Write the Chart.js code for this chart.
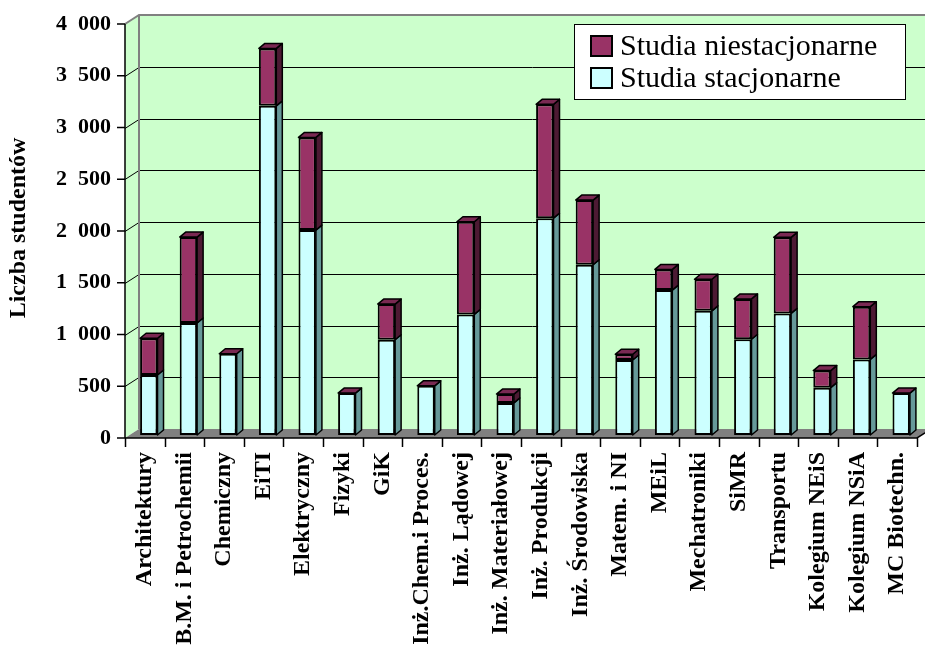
<!DOCTYPE html>
<html><head><meta charset="utf-8">
<script src="https://cdn.jsdelivr.net/npm/chart.js@4/dist/chart.umd.min.js"></script>
<style>html,body{margin:0;padding:0;background:#fff}#wrap{width:925px;height:653px}</style>
</head><body><div id="wrap"><canvas id="c" width="925" height="653"></canvas></div>
<script>
const categories = ['Architektury','B.M. i Petrochemii','Chemiczny','EiTI','Elektryczny','Fizyki','GiK','Inż.Chem.i Proces.','Inż. Lądowej','Inż. Materiałowej','Inż. Produkcji','Inż. Środowiska','Matem. i NI','MEiL','Mechatroniki','SiMR','Transportu','Kolegium NEiS','Kolegium NSiA','MC Biotechn.'];
const stacjonarne =    [580, 1082, 785, 3180, 1980, 405, 920, 475, 1165, 310, 2095, 1645, 725, 1400, 1200, 925, 1175, 457, 730, 405];
const niestacjonarne = [355,  830,   0,  555,  895,   0, 345,   0,  895,  85, 1100,  625,  55,  200,  305, 390,  735, 165, 510,   0];
const yTicks = [0, 500, 1000, 1500, 2000, 2500, 3000, 3500, 4000];
const seriesNames = ['Studia stacjonarne', 'Studia niestacjonarne'];
const yTitle = 'Liczba studentów';

const FAM = "'Liberation Serif', 'Times New Roman', serif";
const COL_STAC = '#CCFFFF', COL_NIEST = '#993366';
const DX = 6, DY = 5;     // bar depth
const BX = 10, BY = 6;    // back wall offset
const FX = -4, FY = 3;    // front plane offset

function fmt(v) {
  v = Number(v);
  if (v < 1000) return String(v);
  const th = Math.floor(v / 1000), r = String(v % 1000).padStart(3, '0');
  return th + '  ' + r;
}

function poly(ctx, pts, fill) {
  ctx.beginPath();
  ctx.moveTo(pts[0][0], pts[0][1]);
  for (let i = 1; i < pts.length; i++) ctx.lineTo(pts[i][0], pts[i][1]);
  ctx.closePath();
  if (fill) { ctx.fillStyle = fill; ctx.fill(); }
  ctx.stroke();
}

const wallPlugin = {
  id: 'walls',
  beforeDatasetsDraw(chart) {
    const ctx = chart.ctx, y = chart.scales.y;
    const L = chart.chartArea.left, R = chart.chartArea.right;
    const yTop = y.getPixelForValue(yTicks[yTicks.length - 1]);
    const y0 = y.getPixelForValue(0);
    ctx.save();
    ctx.fillStyle = '#CCFFCC';
    ctx.fillRect(L + BX, yTop - BY, R - L + 40, y0 - yTop);
    ctx.beginPath();
    ctx.moveTo(L + FX, yTop + FY); ctx.lineTo(L + BX, yTop - BY);
    ctx.lineTo(L + BX, y0 - BY); ctx.lineTo(L + FX, y0 + FY); ctx.closePath();
    ctx.fill();
    ctx.fillStyle = '#808080';
    ctx.beginPath();
    ctx.moveTo(L + FX, y0 + FY); ctx.lineTo(L + BX, y0 - BY);
    ctx.lineTo(R + BX, y0 - BY); ctx.lineTo(R + FX, y0 + FY); ctx.closePath();
    ctx.fill();
    ctx.strokeStyle = '#000'; ctx.lineWidth = 1;
    yTicks.forEach(v => {
      if (v === 0 || v === yTicks[yTicks.length - 1]) return;
      const p = Math.round(y.getPixelForValue(v)) + 0.5;
      ctx.beginPath();
      ctx.moveTo(L + FX, p + FY); ctx.lineTo(L + BX, p - BY); ctx.lineTo(R + BX + 30, p - BY);
      ctx.stroke();
    });
    ctx.strokeStyle = '#808080'; ctx.lineWidth = 2;
    ctx.beginPath();
    ctx.moveTo(L + FX, yTop + FY); ctx.lineTo(L + BX, yTop - BY); ctx.lineTo(R + BX + 30, yTop - BY);
    ctx.moveTo(L + BX, yTop - BY); ctx.lineTo(L + BX, y0 - BY);
    ctx.stroke();
    ctx.strokeStyle = '#000'; ctx.lineWidth = 1.5;
    ctx.beginPath();
    ctx.moveTo(L + FX, yTop + FY); ctx.lineTo(L + FX, y0 + FY);
    ctx.lineTo(R + FX, y0 + FY); ctx.lineTo(R + BX, y0 - BY);
    yTicks.forEach(v => {
      const p = y.getPixelForValue(v) + FY;
      ctx.moveTo(L + FX - 8, p); ctx.lineTo(L + FX, p);
    });
    const cw = (R - L) / categories.length;
    for (let i = 0; i <= categories.length; i++) {
      const xx = Math.round(L + FX + i * cw) + 0.5;
      ctx.moveTo(xx, y0 + FY); ctx.lineTo(xx, y0 + FY + 9);
    }
    ctx.stroke();
    ctx.restore();
  },
  afterDatasetsDraw(chart) {
    const ctx = chart.ctx;
    const m0 = chart.getDatasetMeta(0).data, m1 = chart.getDatasetMeta(1).data;
    ctx.save();
    ctx.strokeStyle = '#000'; ctx.lineWidth = 1.5; ctx.lineJoin = 'round';
    for (let i = 0; i < m0.length; i++) {
      const a = m0[i], b = m1[i];
      const hw = a.width / 2, xl = a.x - hw, xr = a.x + hw;
      poly(ctx, [[xr, a.base], [xr + DX, a.base - DY], [xr + DX, a.y - DY], [xr, a.y]], '#669999');
      if (Math.abs(b.base - b.y) > 0.5)
        poly(ctx, [[xr, b.base], [xr + DX, b.base - DY], [xr + DX, b.y - DY], [xr, b.y]], '#4D1A33');
      poly(ctx, [[xl, b.y], [xl + DX, b.y - DY], [xr + DX, b.y - DY], [xr, b.y]], '#7A2952');
    }
    ctx.restore();
  },
  afterDraw(chart) {
    const ctx = chart.ctx;
    ctx.save();
    ctx.fillStyle = '#fff'; ctx.fillRect(574, 24, 331, 75);
    ctx.strokeStyle = '#000'; ctx.lineWidth = 1; ctx.strokeRect(574.5, 24.5, 331, 75);
    const items = [
      { label: chart.data.datasets[1].label, color: chart.data.datasets[1].backgroundColor, sy: 36, ty: 55 },
      { label: chart.data.datasets[0].label, color: chart.data.datasets[0].backgroundColor, sy: 68, ty: 87 }
    ];
    ctx.font = '30px ' + FAM;
    ctx.textBaseline = 'alphabetic'; ctx.textAlign = 'left';
    items.forEach(it => {
      ctx.fillStyle = it.color; ctx.fillRect(591, it.sy, 21, 20);
      ctx.lineWidth = 2; ctx.strokeStyle = '#000'; ctx.strokeRect(591, it.sy, 21, 20);
      ctx.fillStyle = '#000'; ctx.fillText(it.label, 620, it.ty);
    });
    ctx.restore();
  }
};

new Chart(document.getElementById('c'), {
  type: 'bar',
  data: {
    labels: categories,
    datasets: [
      { label: seriesNames[0], data: stacjonarne, backgroundColor: COL_STAC, borderColor: '#000', borderWidth: 2, borderSkipped: false, barPercentage: 0.44, categoryPercentage: 1 },
      { label: seriesNames[1], data: niestacjonarne, backgroundColor: COL_NIEST, borderColor: '#000', borderWidth: 2, borderSkipped: false, barPercentage: 0.44, categoryPercentage: 1 }
    ]
  },
  options: {
    responsive: false, animation: false, devicePixelRatio: 1,
    layout: { padding: { top: 21, right: 4, left: 0, bottom: 0 } },
    plugins: { legend: { display: false }, tooltip: { enabled: false } },
    scales: {
      x: {
        stacked: true,
        grid: { display: false, drawTicks: false }, border: { display: false },
        ticks: { autoSkip: false, maxRotation: 90, minRotation: 90, padding: 17, labelOffset: -4, color: '#000', font: { family: FAM, size: 24, weight: 'bold' } },
        afterFit(s) { s.height = 218; s.paddingLeft = 0; s.paddingRight = 0; }
      },
      y: {
        stacked: true, min: 0, max: 4000,
        grid: { display: false, drawTicks: false }, border: { display: false },
        afterBuildTicks(s) { s.ticks = yTicks.map(v => ({ value: v })); },
        ticks: { padding: 18, labelOffset: 3, color: '#000', font: { family: FAM, size: 22, weight: 'bold' }, callback: fmt },
        title: { display: true, text: yTitle, color: '#000', font: { family: FAM, size: 24, weight: 'bold' }, padding: { top: 4, bottom: 0 } },
        afterFit(s) { s.width = 129; s.paddingTop = 0; s.paddingBottom = 0; }
      }
    }
  },
  plugins: [wallPlugin]
});
</script></body></html>
